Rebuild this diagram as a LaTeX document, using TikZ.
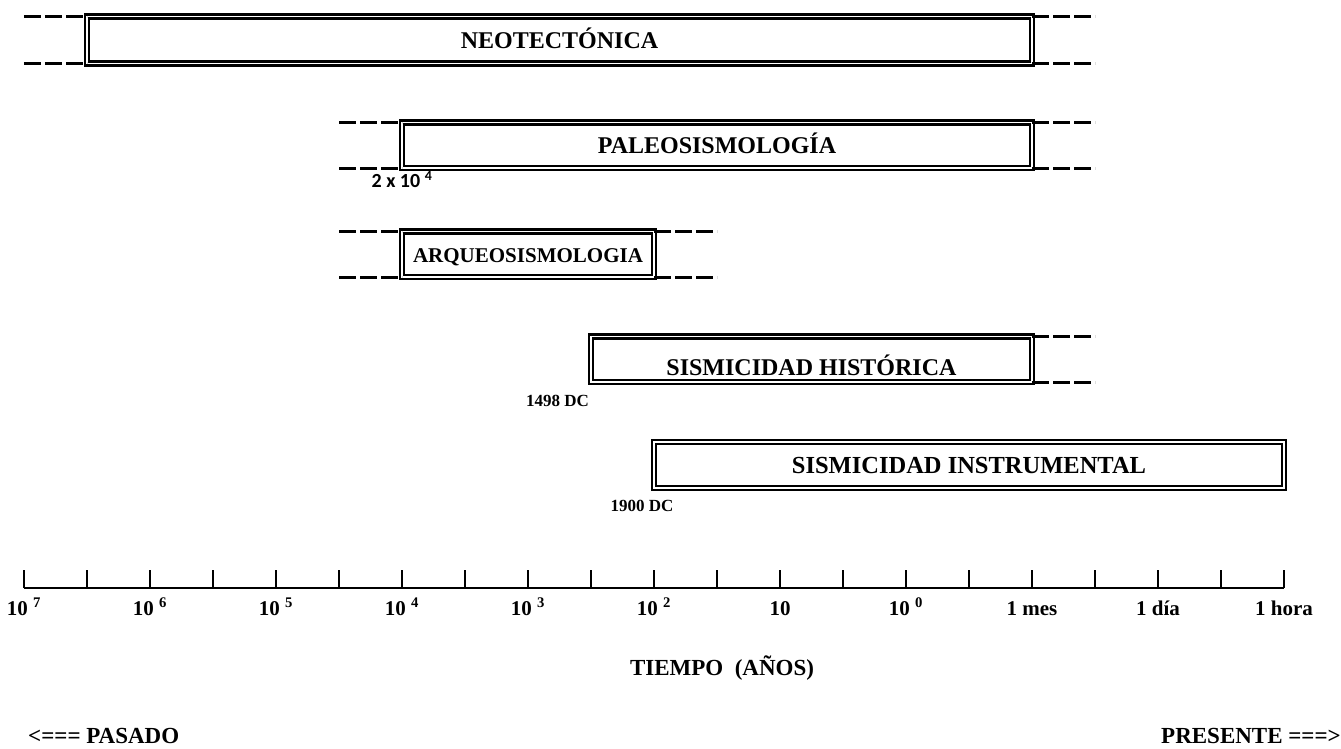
\documentclass[tikz,border=0pt]{standalone}
\usepackage{fontspec}
\setmainfont{Liberation Serif}
\newfontfamily\agefont{Carlito}
\usetikzlibrary{positioning,fit}

\begin{document}
\begin{tikzpicture}[
    x=63pt, y=-1pt,
    period/.style={
        draw, double, line width=2.3pt, double distance=1.5pt,
        inner sep=0pt, outer sep=0pt,
        font=\fontsize{24}{28}\selectfont\bfseries
    },
    dashrule/.style={line width=3pt, dash pattern=on 17pt off 4pt},
    axislabel/.style={anchor=base, inner sep=0pt, font=\fontsize{21}{24}\selectfont\bfseries},
    datelabel/.style={inner sep=0pt, font=\fontsize{17}{20}\selectfont\bfseries},
    agelabel/.style={inner sep=0pt, font=\agefont\fontsize{20}{24}\selectfont\bfseries}
]
  \useasboundingbox (-24/63,0) rectangle (1317/63,748);

  % Periods
  \node[period, fit={(1,16.5) (16,63.5)}, text height=32pt] (neo) {NEOTECTÓNICA};
  \node[period, fit={(6,122.5) (16,168)}, text height=31pt] (paleo) {PALEOSISMOLOGÍA};
  \node[period, fit={(6,231.5) (10,277)}, text height=31pt,
        font=\fontsize{21}{25}\selectfont\bfseries] (arqueo) {ARQUEOSISMOLOGIA};
  \node[period, fit={(9,336.5) (16,382)}, text height=39pt] (hist) {SISMICIDAD HISTÓRICA};
  \node[period, fit={(10,442) (20,488)}, text height=31pt,
        font=\fontsize{24.5}{28}\selectfont\bfseries] (inst) {SISMICIDAD INSTRUMENTAL};

  % Open ends
  \foreach \corner in {north west,south west} {
    \draw[dashrule] (neo.\corner) ++(-1,0) -- (neo.\corner);
    \draw[dashrule] (paleo.\corner) ++(-1,0) -- (paleo.\corner);
    \draw[dashrule] (arqueo.\corner) ++(-1,0) -- (arqueo.\corner);
  }
  \foreach \corner in {north east,south east} {
    \draw[dashrule] (neo.\corner) -- ++(1,0);
    \draw[dashrule] (paleo.\corner) -- ++(1,0);
    \draw[dashrule] (arqueo.\corner) -- ++(1,0);
    \draw[dashrule] (hist.\corner) -- ++(1,0);
  }

  % Start dates
  \node[agelabel, below=3pt of paleo.south west] (paleostart) {2 x 10 \textsuperscript{4}};
  \node[datelabel, below left=13pt and 2pt of hist.south west] (histstart) {1498 DC};
  \node[datelabel, below=12pt of inst.south west, xshift=-12pt] (inststart) {1900 DC};

  % Time axis
  \draw[line width=2.5pt] (0,588) -- (20,588);
  \foreach \k in {0,...,20}
    \draw[line width=2pt] (\k,588) -- (\k,570);
  \foreach \k/\lab in {0/10 \textsuperscript{7}, 2/10 \textsuperscript{6}, 4/10 \textsuperscript{5},
                       6/10 \textsuperscript{4}, 8/10 \textsuperscript{3}, 10/10 \textsuperscript{2},
                       12/10, 14/10 \textsuperscript{0}, 16/1 mes, 18/1 día, 20/1 hora}
    \node[axislabel] (tick\k) at (\k,615) {\lab};

  \node[axislabel, font=\fontsize{23}{26}\selectfont\bfseries] (tiempo) at (698/63,675) {TIEMPO \ (AÑOS)};
  \node[axislabel, anchor=base west, font=\fontsize{23}{26}\selectfont\bfseries] (pasado) at (4/63,743) {<=== PASADO};
  \node[axislabel, anchor=base east, font=\fontsize{23}{26}\selectfont\bfseries] (presente) at (1317/63,743) {PRESENTE ===>};

\end{tikzpicture}
\end{document}
